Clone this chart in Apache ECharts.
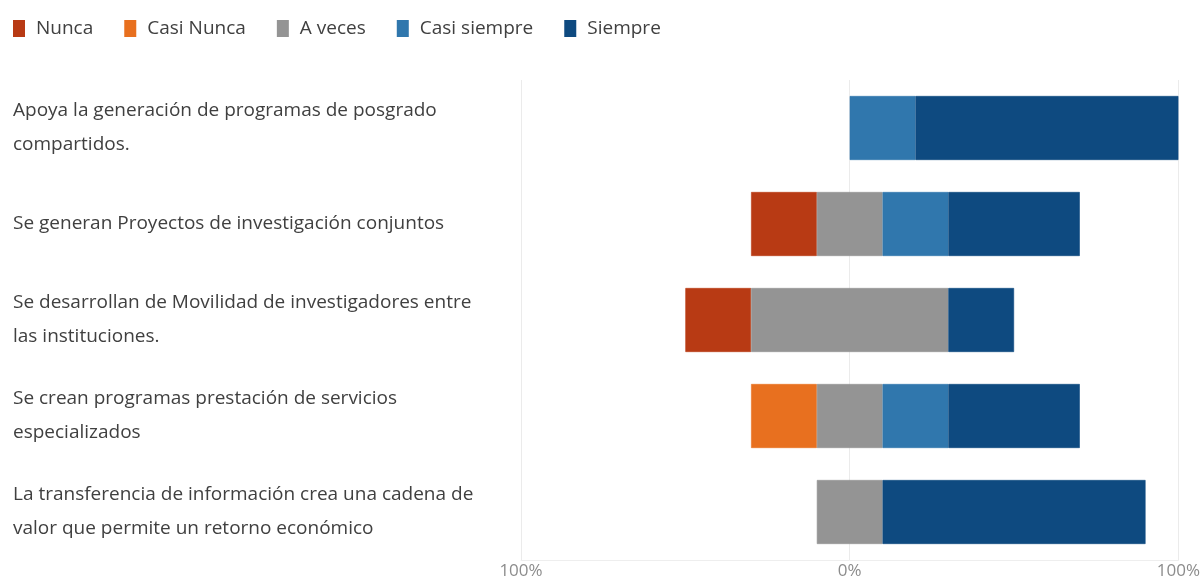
<!DOCTYPE html>
<html>
<head>
<meta charset="utf-8">
<script src="https://cdn.jsdelivr.net/npm/echarts@6/dist/echarts.min.js"></script>
<style>html,body{margin:0;padding:0;background:#fff;}#c{width:1203px;height:580px;}</style>
</head>
<body>
<div id="c"></div>
<script>
const categories = [
  'Apoya la generación de programas de posgrado\ncompartidos.',
  'Se generan Proyectos de investigación conjuntos',
  'Se desarrollan de Movilidad de investigadores entre\nlas instituciones.',
  'Se crean programas prestación de servicios\nespecializados',
  'La transferencia de información crea una cadena de\nvalor que permite un retorno económico'
];
const legendNames = ['Nunca', 'Casi Nunca', 'A veces', 'Casi siempre', 'Siempre'];
const nunca = [0, 20, 20, 0, 0];
const casiNunca = [0, 0, 0, 20, 0];
const aVeces = [0, 20, 60, 20, 20];
const casiSiempre = [20, 20, 0, 20, 0];
const siempre = [80, 40, 20, 40, 80];
const gridTicks = [-100, 0, 100];

const colors = {
  'Nunca': '#B83A14',
  'Casi Nunca': '#E8701F',
  'A veces': '#949494',
  'Casi siempre': '#3077AD',
  'Siempre': '#0E4A80'
};
const FONT = 'Open Sans';

// diverging offset: negative side = Nunca + Casi Nunca + half of A veces
const offset = categories.map((_, i) => -(nunca[i] + casiNunca[i] + aVeces[i] / 2));

function bar(name, data) {
  return {
    name: name, type: 'bar', stack: 'total', stackStrategy: 'all', barWidth: 64, z: 10,
    data: data.map(v => (v === 0 ? { value: 0, itemStyle: { borderWidth: 0, opacity: 0 } } : v)),
    itemStyle: { color: colors[name], borderColor: colors[name], borderWidth: 0.6 },
    emphasis: { disabled: true }
  };
}

const chart = echarts.init(document.getElementById('c'), null, { renderer: 'canvas' });
chart.setOption({
  animation: false,
  color: legendNames.map(n => colors[n]),
  legend: {
    data: legendNames,
    left: 8, top: 14,
    icon: 'rect', itemWidth: 10, itemHeight: 15, itemGap: 31,
    textStyle: { fontFamily: FONT, fontSize: 19, color: '#404040', padding: [0, 0, 0, 7] }
  },
  grid: { left: 521, right: 24, top: 80, bottom: 20, containLabel: false },
  xAxis: {
    type: 'value', min: -100, max: 100, interval: 100,
    axisLine: { show: true, lineStyle: { color: '#eeeeee' } },
    axisTick: { show: false },
    splitLine: { show: false },
    axisLabel: {
      margin: 3, fontFamily: FONT, fontSize: 17, color: '#8c8c8c',
      formatter: v => Math.abs(v) + '%'
    }
  },
  yAxis: {
    type: 'category', data: categories, inverse: true,
    axisLine: { show: false, onZero: false },
    axisTick: { show: false },
    axisLabel: {
      align: 'left', margin: 508, fontFamily: FONT, fontSize: 19,
      lineHeight: 34, color: '#404040', padding: [5, 0, 0, 0]
    }
  },
  series: [
    {
      name: 'gridlines', type: 'line', data: [], z: 1, silent: true,
      markLine: {
        silent: true, symbol: 'none', animation: false,
        label: { show: false },
        lineStyle: { color: '#ebebeb', type: 'solid', width: 1 },
        emphasis: { disabled: true },
        data: gridTicks.map(v => ({ xAxis: v }))
      }
    },
    {
      name: 'offset', type: 'bar', stack: 'total', stackStrategy: 'all', barWidth: 64,
      silent: true, data: offset,
      itemStyle: { color: 'rgba(0,0,0,0)', borderWidth: 0 },
      emphasis: { disabled: true }
    },
    bar('Nunca', nunca),
    bar('Casi Nunca', casiNunca),
    bar('A veces', aVeces),
    bar('Casi siempre', casiSiempre),
    bar('Siempre', siempre)
  ]
});
</script>
</body>
</html>
